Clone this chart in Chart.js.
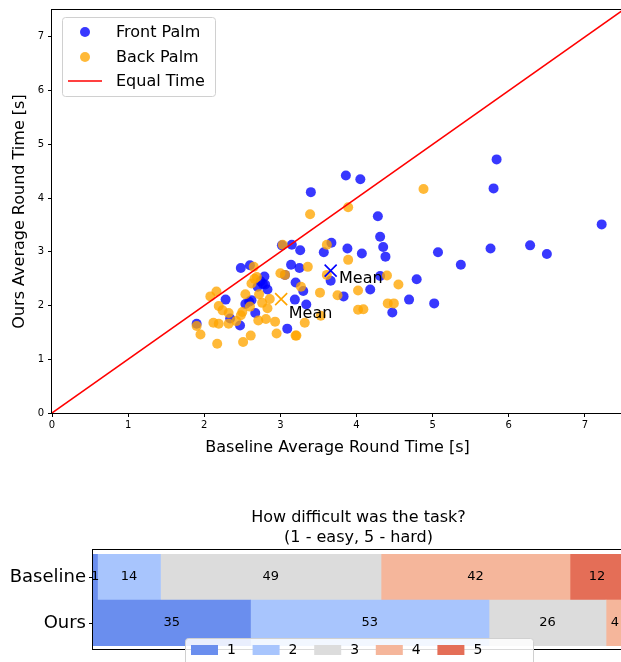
<!DOCTYPE html>
<html>
<head>
<meta charset="utf-8">
<script src="https://cdn.jsdelivr.net/npm/chart.js@4.4.1/dist/chart.umd.min.js"></script>
<style>
body { margin: 0; background: #fff; }
#wrap { width: 621px; height: 662px; overflow: hidden; position: relative; background: #fff; }
#scatter { position: absolute; left: 0; top: 0; }
#bars { position: absolute; left: 0; top: 470px; }
</style>
</head>
<body>
<div id="wrap">
<canvas id="scatter" width="624" height="470"></canvas>
<canvas id="bars" width="624" height="192"></canvas>
</div>
<script>
// scatter data (baseline time, ours time) in seconds
const frontPalmX = [5.84, 5.80, 7.22, 3.86, 4.05, 3.40, 4.28, 4.31, 4.35, 4.38, 5.07, 5.37, 5.76, 6.28, 6.50,
  4.79, 4.69, 5.02, 4.47, 4.18, 3.83, 3.88, 4.07, 3.67, 3.57, 3.15, 3.26, 3.14, 3.25, 3.66, 3.20, 3.30, 3.19,
  3.34, 3.09, 4.31, 3.02, 2.48, 2.60, 2.79, 3.06, 2.80, 2.74, 2.70, 2.83, 2.28, 2.54, 2.59, 2.62, 2.67, 2.34,
  2.47, 1.90, 2.77];
const frontPalmY = [4.72, 4.18, 3.51, 4.42, 4.35, 4.11, 3.66, 3.28, 3.09, 2.91, 2.99, 2.76, 3.06, 3.12, 2.96,
  2.49, 2.11, 2.04, 1.87, 2.30, 2.17, 3.06, 2.97, 3.17, 2.99, 3.13, 3.03, 2.76, 2.70, 2.46, 2.43, 2.27, 2.11,
  2.02, 1.57, 2.55, 3.12, 2.70, 2.75, 2.54, 2.57, 2.39, 2.45, 2.35, 2.30, 2.11, 2.03, 2.07, 2.10, 1.86, 1.76,
  1.63, 1.66, 2.40];
const backPalmX = [4.88, 3.39, 3.89, 3.03, 3.61, 3.89, 3.36, 3.06, 3.61, 4.40, 4.55, 3.27, 3.52, 3.75, 4.02,
  4.41, 4.49, 4.02, 4.09, 3.53, 3.32, 3.20, 2.65, 2.69, 2.62, 2.72, 2.54, 2.16, 2.08, 2.19, 2.24, 2.32, 2.50,
  2.83, 2.86, 2.81, 2.71, 2.93, 2.12, 2.19, 2.32, 2.42, 1.90, 1.95, 2.17, 2.51, 2.61, 2.95, 3.21, 2.66, 2.76,
  2.60, 2.48, 3.00];
const backPalmY = [4.17, 3.70, 3.83, 3.13, 3.13, 2.85, 2.72, 2.57, 2.57, 2.56, 2.39, 2.35, 2.24, 2.19, 2.28,
  2.04, 2.04, 1.92, 1.93, 1.81, 1.68, 1.44, 2.72, 2.53, 2.41, 2.21, 2.21, 2.26, 2.17, 1.99, 1.91, 1.86, 1.88,
  1.95, 2.12, 1.75, 1.72, 1.70, 1.68, 1.66, 1.66, 1.71, 1.62, 1.46, 1.29, 1.32, 1.44, 1.48, 1.44, 2.50, 2.05,
  1.98, 1.82, 2.60];
const equalTimeX = [0, 7.5];
const meanX = [3.66, 3.01];        // front, back
const meanY = [2.65, 2.12];
const meanLabelX = [3.77, 3.11];
const meanLabelY = [2.50, 1.85];
const axisTicks = [0, 1, 2, 3, 4, 5, 6, 7];

// difficulty ratings
const groups = ['Baseline', 'Ours'];
const ratingNames = ['1', '2', '3', '4', '5'];
const rating1 = [1, 35];
const rating2 = [14, 53];
const rating3 = [49, 26];
const rating4 = [42, 4];
const rating5 = [12, 0];
const ratingColors = ['rgb(106,142,238)', 'rgb(168,197,253)', 'rgb(220,220,220)', 'rgb(245,182,155)', 'rgb(228,110,87)'];

Chart.defaults.font.family = "'DejaVu Sans', sans-serif";
Chart.defaults.color = '#000';

const BLUE = 'rgba(0,0,255,0.78)';
const ORANGE = 'rgba(255,165,0,0.78)';

function toPoints(xs, ys) {
  return xs.map((x, i) => ({ x: x, y: ys[i] }));
}

// draws all four spines, optionally a little outside the chart area
function makeFrame(padTop, padBottom) {
  return {
    id: 'frame',
    afterDraw(chart) {
      const a = chart.chartArea, ctx = chart.ctx;
      const top = Math.round(a.top) - padTop, bottom = Math.round(a.bottom) + padBottom;
      ctx.save();
      ctx.strokeStyle = '#000';
      ctx.lineWidth = 1;
      ctx.strokeRect(Math.round(a.left) - 0.5, top - 0.5, a.right - a.left + 1, bottom - top + 1);
      ctx.restore();
    }
  };
}

const meanText = {
  id: 'meanText',
  afterDatasetsDraw(chart) {
    const ctx = chart.ctx, xs = chart.scales.x, ys = chart.scales.y;
    ctx.save();
    ctx.font = "16px 'DejaVu Sans'";
    ctx.fillStyle = '#000';
    ctx.textBaseline = 'middle';
    meanLabelX.forEach((v, i) => {
      ctx.fillText('Mean', xs.getPixelForValue(v), ys.getPixelForValue(meanLabelY[i]));
    });
    ctx.restore();
  }
};

const scatterLegend = {
  id: 'scatterLegend',
  afterDraw(chart) {
    const ctx = chart.ctx;
    ctx.save();
    ctx.beginPath();
    ctx.roundRect(62.5, 17.5, 153, 79, 3);
    ctx.fillStyle = 'rgba(255,255,255,0.8)';
    ctx.fill();
    ctx.strokeStyle = '#d0d0d0';
    ctx.lineWidth = 1;
    ctx.stroke();
    const rows = [32, 57, 81];
    ctx.font = "16px 'DejaVu Sans'";
    ctx.textBaseline = 'middle';
    for (let i = 0; i < 3; i++) {
      const ds = chart.data.datasets[i];
      if (ds.type === 'line') {
        ctx.strokeStyle = ds.borderColor;
        ctx.lineWidth = 1.5;
        ctx.beginPath();
        ctx.moveTo(68, rows[i]);
        ctx.lineTo(102, rows[i]);
        ctx.stroke();
      } else {
        ctx.fillStyle = ds.backgroundColor;
        ctx.beginPath();
        ctx.arc(85, rows[i], 5, 0, Math.PI * 2);
        ctx.fill();
      }
      ctx.fillStyle = '#000';
      ctx.fillText(ds.label, 116, rows[i] + 1);
    }
    ctx.restore();
  }
};

new Chart(document.getElementById('scatter'), {
  type: 'scatter',
  data: {
    datasets: [
      { label: 'Front Palm', data: toPoints(frontPalmX, frontPalmY), backgroundColor: BLUE, borderWidth: 0, pointRadius: 5, order: 3 },
      { label: 'Back Palm', data: toPoints(backPalmX, backPalmY), backgroundColor: ORANGE, borderWidth: 0, pointRadius: 5, order: 2 },
      { type: 'line', label: 'Equal Time', data: toPoints(equalTimeX, equalTimeX), borderColor: '#ff0000', borderWidth: 1.5, pointRadius: 0, fill: false, order: 1 },
      { label: 'mean front', data: [{ x: meanX[0], y: meanY[0] }], pointStyle: 'crossRot', pointRadius: 8.5, borderColor: '#0000ff', borderWidth: 1.6, order: 0 },
      { label: 'mean back', data: [{ x: meanX[1], y: meanY[1] }], pointStyle: 'crossRot', pointRadius: 8.5, borderColor: '#ffa500', borderWidth: 1.6, order: 0 }
    ]
  },
  options: {
    responsive: false,
    animation: false,
    layout: { autoPadding: false, padding: { top: 8, right: 1, left: 0, bottom: 0 } },
    plugins: { legend: { display: false }, tooltip: { enabled: false } },
    scales: {
      x: {
        type: 'linear', min: 0, max: 7.5,
        afterBuildTicks: s => { s.ticks = axisTicks.map(v => ({ value: v })); },
        afterFit: s => { s.height = 57; },
        grid: { display: true, drawOnChartArea: false, drawTicks: true, tickLength: 4, color: '#000' },
        border: { display: false },
        ticks: { font: { size: 10 }, padding: 2, maxRotation: 0 },
        title: { display: true, text: 'Baseline Average Round Time [s]', font: { size: 16 }, padding: { bottom: 13 } }
      },
      y: {
        type: 'linear', min: 0, max: 7.5,
        afterBuildTicks: s => { s.ticks = axisTicks.map(v => ({ value: v })); },
        afterFit: s => { s.width = 52; },
        grid: { display: true, drawOnChartArea: false, drawTicks: true, tickLength: 4, color: '#000' },
        border: { display: false },
        ticks: { font: { size: 10 }, padding: 4 },
        title: { display: true, text: 'Ours Average Round Time [s]', font: { size: 16 }, padding: { top: 10 } }
      }
    }
  },
  plugins: [makeFrame(0, 0), meanText, scatterLegend]
});

const barLabels = {
  id: 'barLabels',
  afterDatasetsDraw(chart) {
    const ctx = chart.ctx;
    ctx.save();
    ctx.font = "13px 'DejaVu Sans'";
    ctx.fillStyle = '#000';
    ctx.textAlign = 'center';
    ctx.textBaseline = 'middle';
    chart.data.datasets.forEach((ds, di) => {
      chart.getDatasetMeta(di).data.forEach((el, i) => {
        if (ds.data[i] > 0) ctx.fillText(String(ds.data[i]), (el.x + el.base) / 2, el.y);
      });
    });
    ctx.restore();
  }
};

const barLegend = {
  id: 'barLegend',
  afterDraw(chart) {
    const ctx = chart.ctx;
    ctx.save();
    ctx.beginPath();
    ctx.roundRect(185.5, 168.5, 348, 40, 3);
    ctx.fillStyle = 'rgba(255,255,255,0.85)';
    ctx.fill();
    ctx.strokeStyle = '#d0d0d0';
    ctx.stroke();
    ctx.font = "14px 'DejaVu Sans'";
    ctx.textBaseline = 'middle';
    chart.data.datasets.forEach((ds, i) => {
      const x0 = 191 + i * 61.6;
      ctx.fillStyle = ds.backgroundColor;
      ctx.fillRect(x0, 175, 27, 10);
      ctx.fillStyle = '#000';
      ctx.fillText(ds.label, x0 + 36, 180);
    });
    ctx.restore();
  }
};

const ratingData = [rating1, rating2, rating3, rating4, rating5];

new Chart(document.getElementById('bars'), {
  type: 'bar',
  data: {
    labels: groups,
    datasets: ratingData.map((vals, i) => ({
      label: ratingNames[i],
      data: vals,
      backgroundColor: ratingColors[i],
      borderWidth: 0,
      barPercentage: 1,
      categoryPercentage: 1
    }))
  },
  options: {
    indexAxis: 'y',
    responsive: false,
    animation: false,
    layout: { autoPadding: false, padding: { top: 0, right: 0, left: 0, bottom: 16 } },
    plugins: {
      legend: { display: false },
      tooltip: { enabled: false },
      title: {
        display: true,
        fullSize: false,
        text: ['How difficult was the task?', '(1 - easy, 5 - hard)'],
        font: { size: 16, weight: 'normal', lineHeight: 1.25 },
        color: '#000',
        padding: { top: 38, bottom: 6 }
      }
    },
    scales: {
      x: { stacked: true, min: 0, max: 118, display: false },
      y: {
        stacked: true,
        afterFit: s => { s.width = 93; },
        grid: { display: true, drawOnChartArea: false, drawTicks: true, tickLength: 4, color: '#000', offset: false },
        border: { display: false },
        ticks: { font: { size: 18 }, padding: 3, color: '#000' }
      }
    }
  },
  plugins: [makeFrame(4, 3), barLabels, barLegend]
});
</script>
</body>
</html>
